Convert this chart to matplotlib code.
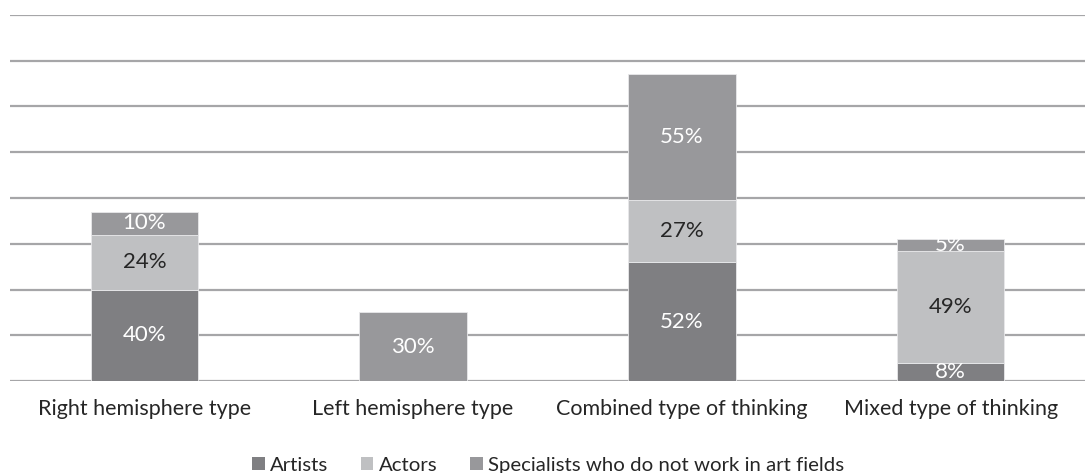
import matplotlib.pyplot as plt
import numpy as np

categories = ["Right hemisphere type", "Left hemisphere type",
              "Combined type of thinking", "Mixed type of thinking"]
series_names = ["Artists", "Actors", "Specialists who do not work in art fields"]
artists = [40, 0, 52, 8]
actors = [24, 0, 27, 49]
specialists = [10, 30, 55, 5]

colors = ["#7f7f82", "#bfc0c2", "#98989b"]
label_colors = ["white", "#262626", "white"]

plt.rcParams['font.family'] = ['Lato', 'DejaVu Sans']

fig = plt.figure(figsize=(10.85, 4.73), dpi=100)
ax = fig.add_axes([10 / 1085, 1 - 381 / 473, 1075 / 1085, 366 / 473])

x = np.arange(len(categories))
bottom = np.zeros(len(categories))
handles = []
for vals, col, lc, name in zip([artists, actors, specialists], colors, label_colors, series_names):
    vals = np.array(vals, dtype=float)
    bars = ax.bar(x, vals, width=0.4, bottom=bottom, color=col,
                  edgecolor="#e8e8ea", linewidth=0.6, zorder=3, label=name)
    handles.append(bars)
    for xi, v, b in zip(x, vals, bottom):
        if v > 0:
            ax.text(xi, b + v / 2, f"{int(v)}%", ha="center", va="center",
                    color=lc, fontsize=16, zorder=4)
    bottom += vals

ax.set_xlim(-0.5, len(categories) - 0.5)
ax.set_ylim(0, 160)
ax.set_yticks(np.arange(0, 161, 20))
ax.yaxis.grid(True, color="#a6a6a8", linewidth=1.6, zorder=0)
ax.set_yticklabels([])
ax.tick_params(axis="y", length=0)
ax.tick_params(axis="x", length=0, pad=13, labelsize=15.5, labelcolor="#262626")
ax.set_xticks(x)
ax.set_xticklabels(categories)
for s in ax.spines.values():
    s.set_visible(False)

leg = fig.legend(handles=handles, labels=series_names, loc="center",
                 bbox_to_anchor=(0.505, 1 - 465 / 473), ncol=3, frameon=False,
                 fontsize=14.7, handlelength=0.62, handleheight=0.62,
                 handletextpad=0.25, columnspacing=1.6, labelcolor="#262626")
for h in leg.legend_handles:
    h.set_edgecolor("none")

fig.savefig("out.png", dpi=100)
